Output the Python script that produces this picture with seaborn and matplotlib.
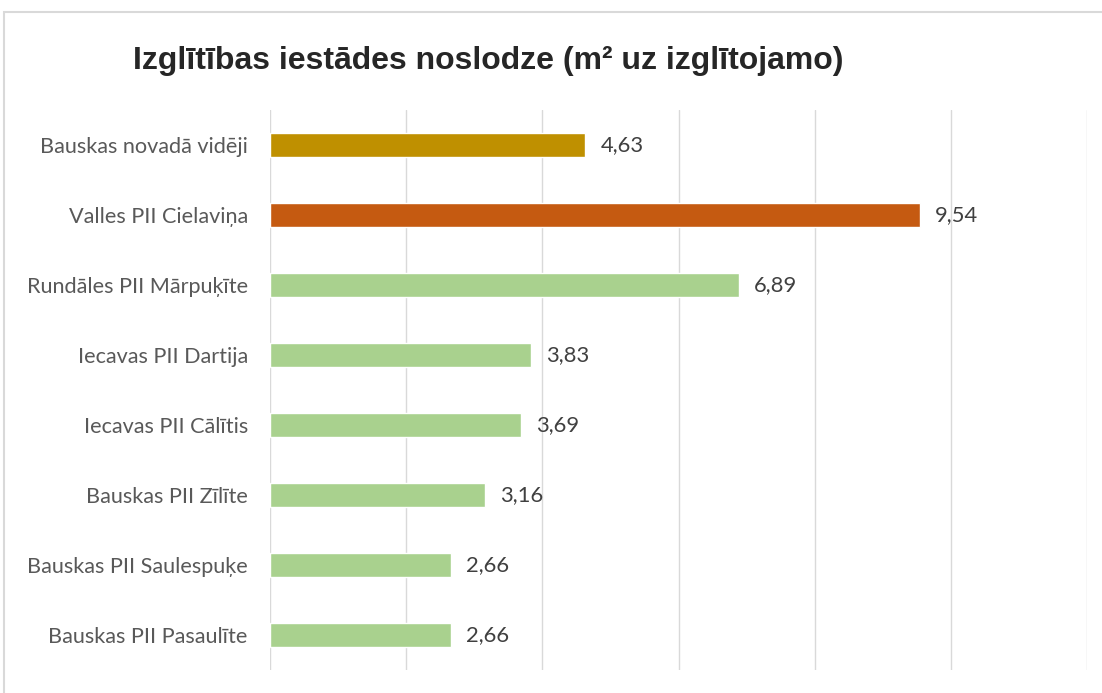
import matplotlib
matplotlib.use("Agg")
import matplotlib.pyplot as plt
import seaborn as sns
import pandas as pd
from matplotlib.patches import Rectangle

# --- data ---
schools = [
    "Bauskas novadā vidēji",
    "Valles PII Cielaviņa",
    "Rundāles PII Mārpuķīte",
    "Iecavas PII Dartija",
    "Iecavas PII Cālītis",
    "Bauskas PII Zīlīte",
    "Bauskas PII Saulespuķe",
    "Bauskas PII Pasaulīte",
]
area_per_child = [4.63, 9.54, 6.89, 3.83, 3.69, 3.16, 2.66, 2.66]
bar_colors = ["#BF9000", "#C55A11"] + ["#A9D18E"] * 6

df = pd.DataFrame({"school": schools, "value": area_per_child})

sns.set_style("white")
plt.rcParams["font.family"] = ["Lato", "DejaVu Sans"]

fig = plt.figure(figsize=(11.02, 6.93), dpi=100)
ax = fig.add_axes([270 / 1102, 23 / 693, 817 / 1102, 560 / 693])

sns.barplot(data=df, x="value", y="school", hue="school", palette=bar_colors,
            saturation=1, legend=False, width=0.34, ax=ax, orient="h")

ax.set_xlim(0, 12)
ax.set_xticks(range(0, 13, 2))
ax.set_xticklabels([])
ax.tick_params(axis="x", length=0)
ax.tick_params(axis="y", length=0, pad=16, labelsize=15.6, labelcolor="#595959")
ax.grid(axis="x", color="#d9d9d9", linewidth=1)
ax.set_axisbelow(True)
for s in ax.spines.values():
    s.set_visible(False)
ax.set_xlabel("")
ax.set_ylabel("")

for c in ax.containers:
    ax.bar_label(c, labels=[f"{v:.2f}".replace(".", ",") for v in c.datavalues],
                 padding=11, fontsize=15.8, color="#404040")

fig.text(133 / 1102, 1 - 61 / 693, "Izglītības iestādes noslodze (m² uz izglītojamo)",
         family="Liberation Sans", fontweight="bold", fontsize=23, va="center", ha="left")

# outer chart border
fig.patches.append(Rectangle((4 / 1102, -0.05), 1.2, 1 - 12 / 693 + 0.05,
                             transform=fig.transFigure, fill=False,
                             edgecolor="#d9d9d9", linewidth=1.5))

fig.savefig("out.png", dpi=100)
